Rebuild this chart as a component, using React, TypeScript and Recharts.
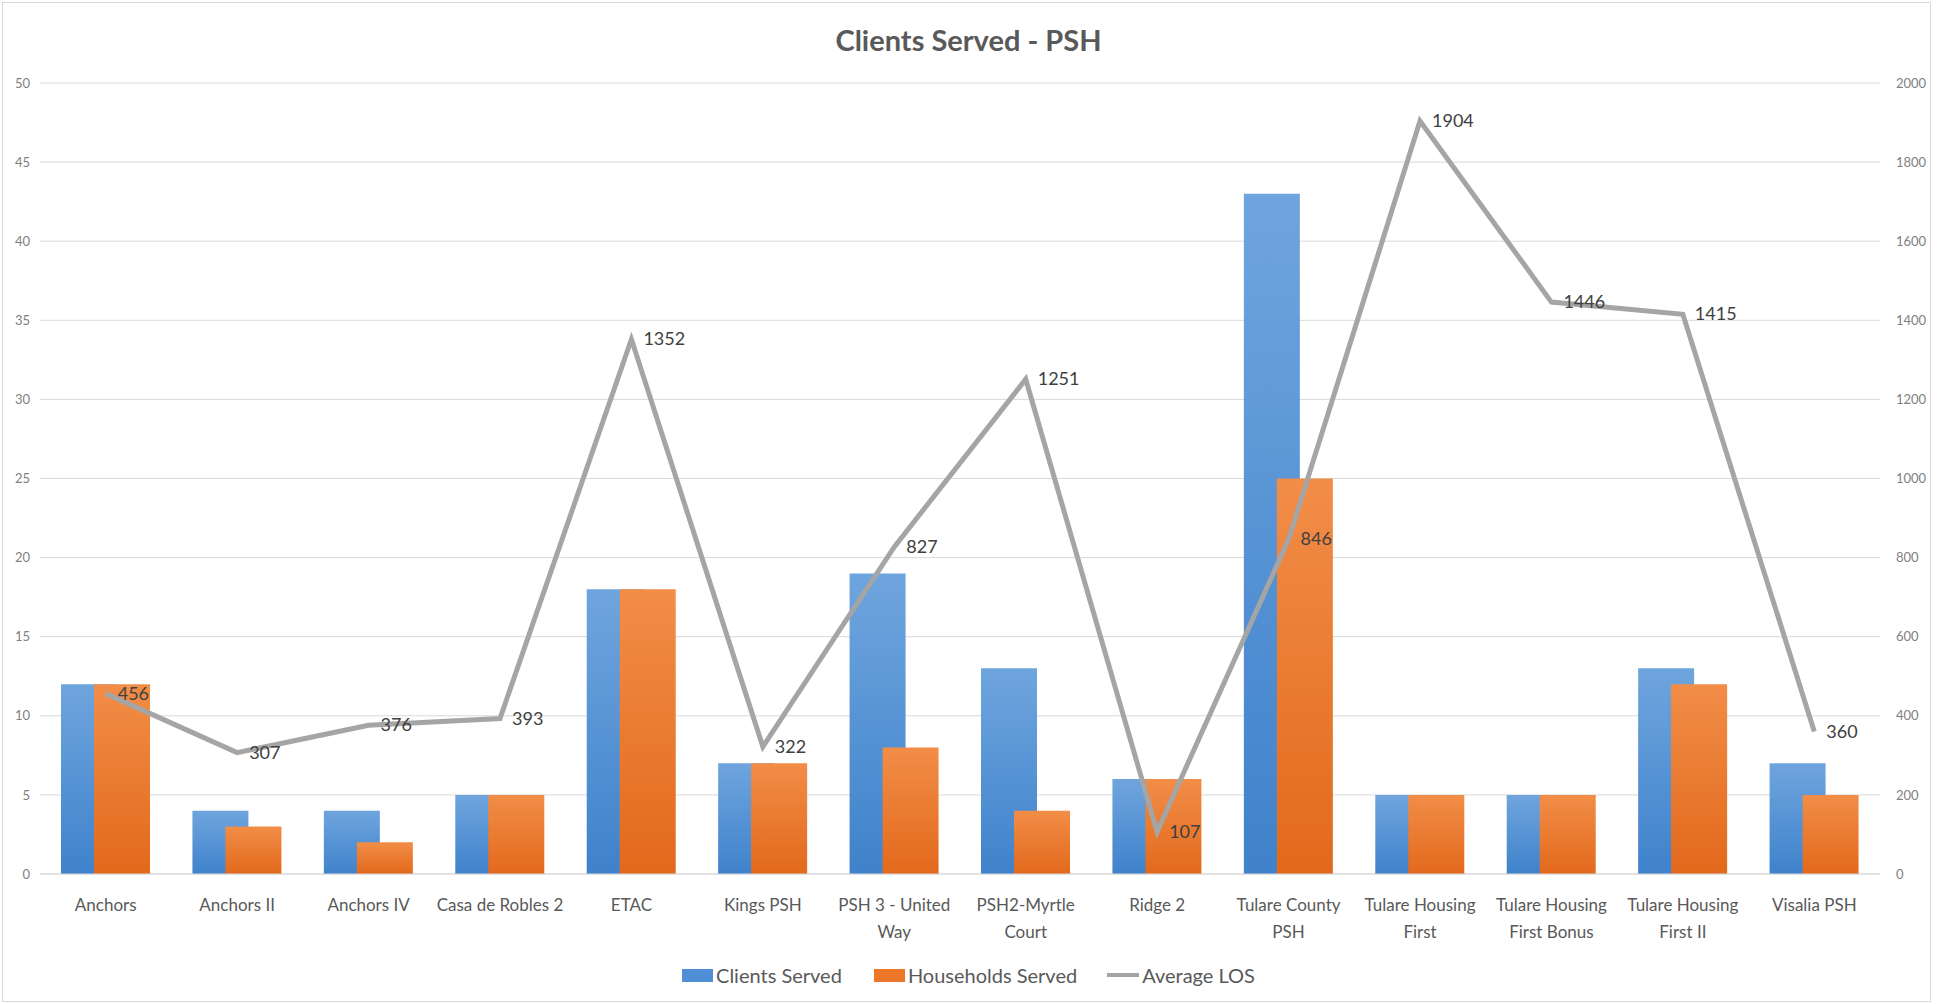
import React from 'react';
import { ComposedChart, Bar, Line, XAxis, YAxis, CartesianGrid, Legend, LabelList } from 'recharts';

const categories = [
  'Anchors', 'Anchors II', 'Anchors IV', 'Casa de Robles 2', 'ETAC', 'Kings PSH', 'PSH 3 - United Way',
  'PSH2-Myrtle Court', 'Ridge 2', 'Tulare County PSH', 'Tulare Housing First', 'Tulare Housing First Bonus',
  'Tulare Housing First II', 'Visalia PSH',
];

// how the category labels wrap in the original
const tickLines: string[][] = [
  ['Anchors'], ['Anchors II'], ['Anchors IV'], ['Casa de Robles 2'], ['ETAC'], ['Kings PSH'],
  ['PSH 3 - United', 'Way'], ['PSH2-Myrtle', 'Court'], ['Ridge 2'], ['Tulare County', 'PSH'],
  ['Tulare Housing', 'First'], ['Tulare Housing', 'First Bonus'], ['Tulare Housing', 'First II'], ['Visalia PSH'],
];

const clientsServed = [12, 4, 4, 5, 18, 7, 19, 13, 6, 43, 5, 5, 13, 7];
const householdsServed = [12, 3, 2, 5, 18, 7, 8, 4, 6, 25, 5, 5, 12, 5];
const averageLOS = [456, 307, 376, 393, 1352, 322, 827, 1251, 107, 846, 1904, 1446, 1415, 360];

const leftTicks = [0, 5, 10, 15, 20, 25, 30, 35, 40, 45, 50];
const rightTicks = [0, 200, 400, 600, 800, 1000, 1200, 1400, 1600, 1800, 2000];

const data = categories.map((name, i) => ({
  name,
  clients: clientsServed[i],
  households: householdsServed[i],
  los: averageLOS[i],
}));

const FONT = 'Lato, "Open Sans", sans-serif';

const CategoryTick = (props: any) => {
  const { x, y, payload } = props;
  const lines = tickLines[payload.index] || [payload.value];
  return (
    <g transform={`translate(${x},${y})`}>
      <text textAnchor="middle" fill="#595959" fontSize={17} fontFamily={FONT}>
        {lines.map((l, i) => (
          <tspan key={i} x={0} dy={i === 0 ? 29 : 27}>{l}</tspan>
        ))}
      </text>
    </g>
  );
};

const LosLabel = (props: any) => {
  const { x, y, value } = props;
  return (
    <text x={x + 12} y={y + 6} textAnchor="start" fill="#404040" fontSize={18} fontFamily={FONT}>
      {value}
    </text>
  );
};

const LegendContent = () => (
  <div style={{ height: 58, display: 'flex', justifyContent: 'center', alignItems: 'center', fontFamily: FONT, fontSize: 20, color: '#595959' }}>
    <span style={{ display: 'inline-flex', alignItems: 'center', marginRight: 32 }}>
      <span style={{ width: 31, height: 13, background: '#4f8fd6', marginRight: 3 }} />Clients Served
    </span>
    <span style={{ display: 'inline-flex', alignItems: 'center', marginRight: 30 }}>
      <span style={{ width: 31, height: 13, background: '#ed7628', marginRight: 3 }} />Households Served
    </span>
    <span style={{ display: 'inline-flex', alignItems: 'center' }}>
      <span style={{ width: 32, height: 4, background: '#a5a5a5', marginRight: 3 }} />Average LOS
    </span>
  </div>
);

export default function App() {
  return (
    <div style={{ position: 'absolute', left: 0, top: 0, width: 1937, height: 1004, background: '#fff' }}>
      <div style={{ position: 'absolute', left: 2, top: 2, width: 1929, height: 1000, border: '1px solid #d9d9d9', boxSizing: 'border-box' }} />
      <div style={{ position: 'absolute', left: 0, top: 22, width: 1937, textAlign: 'center', fontFamily: FONT, fontWeight: 700, fontSize: 29, color: '#595959' }}>
        Clients Served - PSH
      </div>
      <ComposedChart
        width={1937}
        height={1004}
        data={data}
        margin={{ top: 83, right: 0, left: 0, bottom: 0 }}
        barSize={56}
        barGap={-23}
      >
        <defs>
          <linearGradient id="gBlue" x1="0" y1="0" x2="0" y2="1">
            <stop offset="0%" stopColor="#6fa5de" />
            <stop offset="100%" stopColor="#3f82cb" />
          </linearGradient>
          <linearGradient id="gOrange" x1="0" y1="0" x2="0" y2="1">
            <stop offset="0%" stopColor="#f28d47" />
            <stop offset="100%" stopColor="#e2691c" />
          </linearGradient>
        </defs>
        <CartesianGrid vertical={false} stroke="#d9d9d9" yAxisId="left" />
        <XAxis
          dataKey="name"
          interval={0}
          height={72}
          tick={<CategoryTick />}
          tickLine={false}
          axisLine={{ stroke: '#d9d9d9' }}
        />
        <YAxis
          yAxisId="left"
          domain={[0, 50]}
          ticks={leftTicks}
          width={40}
          axisLine={false}
          tickLine={false}
          tickMargin={4}
          tick={{ fill: '#808080', fontSize: 13, fontFamily: FONT }}
        />
        <YAxis
          yAxisId="right"
          orientation="right"
          domain={[0, 2000]}
          ticks={rightTicks}
          width={57}
          axisLine={false}
          tickLine={false}
          tickMargin={10}
          tick={{ fill: '#808080', fontSize: 13, fontFamily: FONT, textAnchor: 'start' }}
        />
        <Legend verticalAlign="bottom" content={<LegendContent />} />
        <Bar yAxisId="left" dataKey="clients" name="Clients Served" fill="url(#gBlue)" isAnimationActive={false} />
        <Bar yAxisId="left" dataKey="households" name="Households Served" fill="url(#gOrange)" isAnimationActive={false} />
        <Line
          yAxisId="right"
          dataKey="los"
          name="Average LOS"
          stroke="#a5a5a5"
          strokeWidth={5}
          dot={false}
          activeDot={false}
          isAnimationActive={false}
        >
          <LabelList dataKey="los" content={<LosLabel />} />
        </Line>
      </ComposedChart>
    </div>
  );
}
